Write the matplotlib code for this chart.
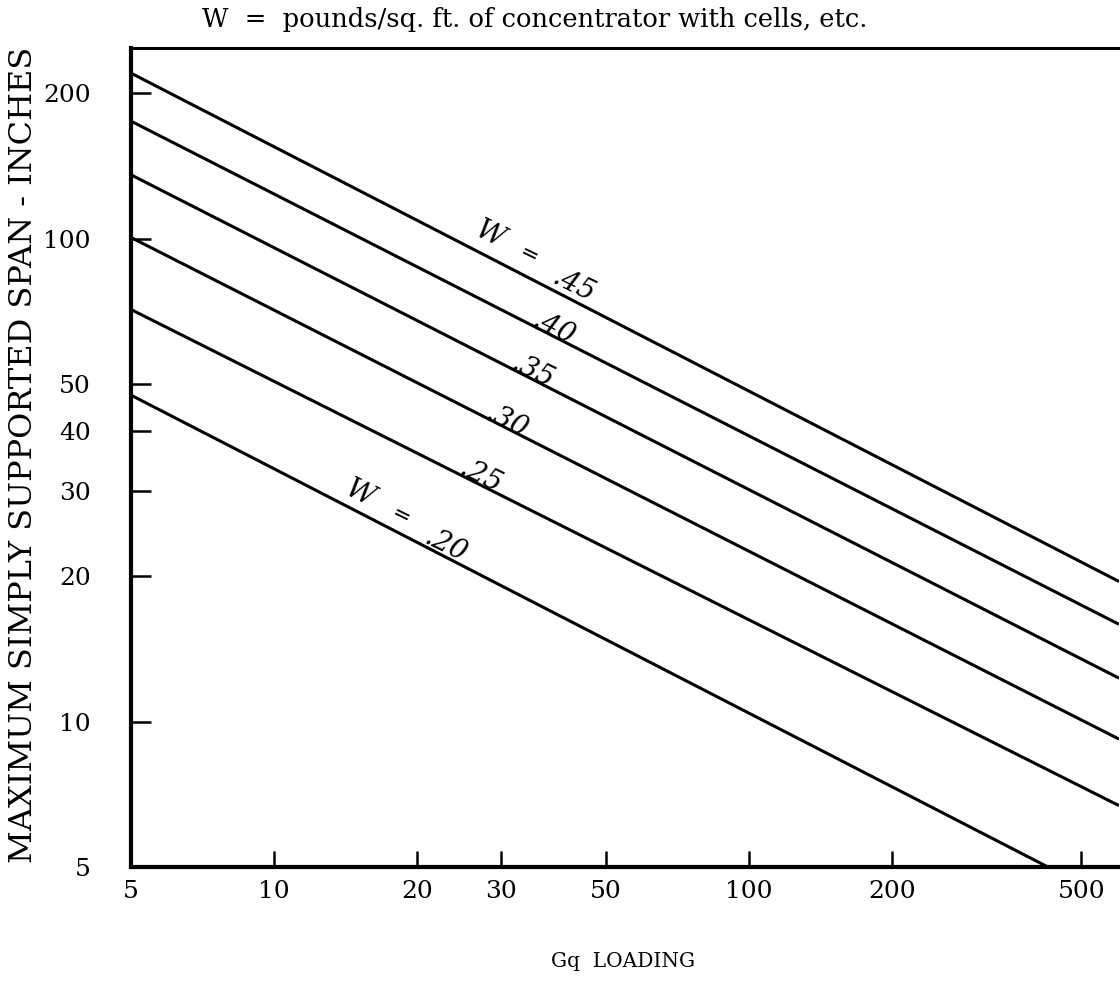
import matplotlib
matplotlib.use("Agg")
import matplotlib.pyplot as plt

# span at the two ends of each line (Gq = 5 and Gq = 600)
gq_ends = [5, 600]
w_values = ['.45', '.40', '.35', '.30', '.25', '.20']
span_45 = [220, 19.5]
span_40 = [175, 15.9]
span_35 = [135.5, 12.3]
span_30 = [100.5, 9.2]
span_25 = [71.3, 6.7]
span_20 = [47.4, 4.2]
spans = [span_45, span_40, span_35, span_30, span_25, span_20]

# where the ".xx" labels sit (Gq, span)
label_gq = [39.8, 36.1, 32.6, 28.8, 25.3, 21.4]
label_span = [81.8, 66.7, 54.4, 42.9, 33.0, 23.7]

x_ticks = [5, 10, 20, 30, 50, 100, 200, 500]
y_ticks = [5, 10, 20, 30, 40, 50, 100, 200]

serif = 'DejaVu Serif'

fig = plt.figure(figsize=(11.2, 9.96), dpi=100)
ax = fig.add_axes([131 / 1120, 129 / 996, 988 / 1120, 819 / 996])

for s in spans:
    ax.plot(gq_ends, s, color='black', lw=2.2, solid_capstyle='butt')

ax.set_xscale('log')
ax.set_yscale('log')
ax.set_xlim(5, 600)
ax.set_ylim(5, 248)

ax.set_xticks(x_ticks)
ax.set_xticklabels([str(t) for t in x_ticks])
ax.set_yticks(y_ticks)
ax.set_yticklabels([str(t) for t in y_ticks])
ax.minorticks_off()
ax.tick_params(axis='x', direction='in', length=11.5, width=1.8, pad=9)
ax.tick_params(axis='y', direction='in', length=14.5, width=1.8, pad=29)
for lab in ax.get_xticklabels() + ax.get_yticklabels():
    lab.set_family(serif)
    lab.set_fontsize(18)

ax.spines['left'].set_linewidth(3)
ax.spines['bottom'].set_linewidth(3)
ax.spines['top'].set_linewidth(2.2)
ax.spines['right'].set_visible(False)

# curve labels
ang = -26
for w, gx, gy in zip(w_values, label_gq, label_span):
    ax.annotate(w, (gx, gy), xytext=(-6, -2), textcoords='offset points',
                fontsize=20, family=serif, style='italic', rotation=ang,
                rotation_mode='anchor', ha='left', va='baseline')

ax.text(28.4, 101.9, 'W', fontsize=20, family=serif, style='italic',
        rotation=ang, ha='center', va='center')
ax.text(34.4, 92.3, '=', fontsize=16, family=serif, rotation=ang,
        ha='center', va='center')
ax.text(15.1, 29.6, 'W', fontsize=20, family=serif, style='italic',
        rotation=ang, ha='center', va='center')
ax.text(18.5, 26.6, '=', fontsize=16, family=serif, rotation=ang,
        ha='center', va='center')

fig.text(535 / 1120, 1 - 20 / 996,
         'W  =  pounds/sq. ft. of concentrator with cells, etc.',
         family=serif, fontsize=18.5, ha='center', va='center')
fig.text(623 / 1120, 1 - 961 / 996, 'Gq  LOADING', family=serif, fontsize=14.5,
         ha='center', va='center')
fig.text(24 / 1120, 1 - 455 / 996, 'MAXIMUM SIMPLY SUPPORTED SPAN - INCHES',
         family=serif, fontsize=23, rotation=90, ha='center', va='center')

fig.savefig('out.png', dpi=100)
